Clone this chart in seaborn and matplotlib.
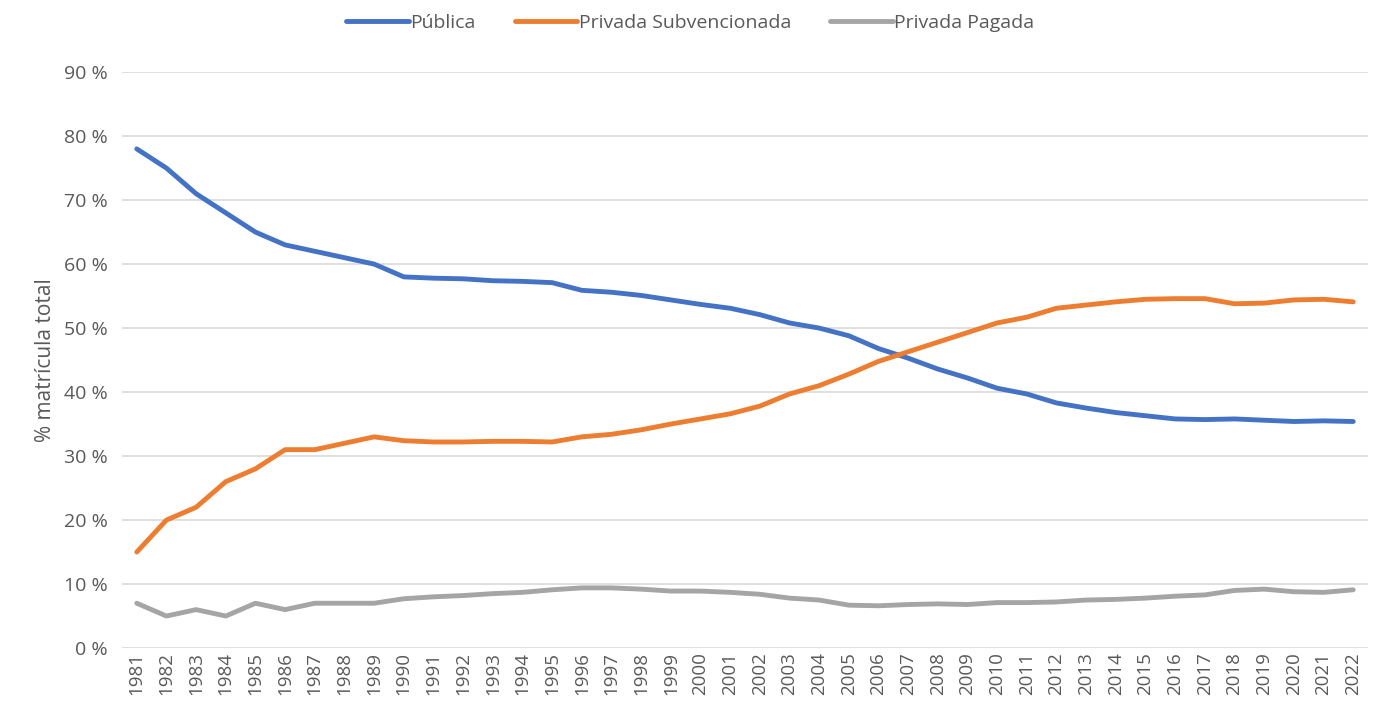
import matplotlib
matplotlib.use("Agg")
import matplotlib.pyplot as plt
import numpy as np
import pandas as pd
import seaborn as sns

years = list(range(1981, 2023))

publica = [78, 75, 71, 68, 65, 63, 62, 61, 60, 58.0, 57.8, 57.7, 57.4, 57.3, 57.1,
           55.9, 55.6, 55.1, 54.4, 53.7, 53.1, 52.1, 50.8, 50.0, 48.8, 46.8, 45.3,
           43.6, 42.2, 40.6, 39.7, 38.3, 37.5, 36.8, 36.3, 35.8, 35.7, 35.8, 35.6,
           35.4, 35.5, 35.4]
subvencionada = [15, 20, 22, 26, 28, 31, 31, 32, 33, 32.4, 32.2, 32.2, 32.3, 32.3, 32.2,
                 33.0, 33.4, 34.1, 35.0, 35.8, 36.6, 37.8, 39.7, 41.0, 42.8, 44.8, 46.3,
                 47.8, 49.3, 50.8, 51.7, 53.1, 53.6, 54.1, 54.5, 54.6, 54.6, 53.8, 53.9,
                 54.4, 54.5, 54.1]
pagada = [7, 5, 6, 5, 7, 6, 7, 7, 7, 7.7, 8.0, 8.2, 8.5, 8.7, 9.1,
          9.4, 9.4, 9.2, 8.9, 8.9, 8.7, 8.4, 7.8, 7.5, 6.7, 6.6, 6.8,
          6.9, 6.8, 7.1, 7.1, 7.2, 7.5, 7.6, 7.8, 8.1, 8.3, 9.0, 9.2,
          8.8, 8.7, 9.1]

series = ['Pública', 'Privada Subvencionada', 'Privada Pagada']
colors = ['#4472C4', '#ED7D31', '#A5A5A5']

df = pd.DataFrame({'Año': years, series[0]: publica, series[1]: subvencionada, series[2]: pagada})
df = df.melt(id_vars='Año', var_name='Dependencia', value_name='Valor')

sns.set_style('white')
plt.rcParams['font.family'] = ['Open Sans', 'DejaVu Sans']

fig = plt.figure(figsize=(13.81, 7.14), dpi=100)
ax = fig.add_axes([0.0883, 0.0924, 0.9023, 0.8066])

sns.lineplot(data=df, x='Año', y='Valor', hue='Dependencia', palette=colors,
             linewidth=3.5, ax=ax, legend=False, solid_capstyle='round')

ax.set_xlim(1980.5, 2022.5)
ax.set_ylim(0, 90)
ax.set_yticks(np.arange(0, 91, 10))
ax.set_yticklabels([f'{v} %' for v in range(0, 91, 10)])
ax.set_xticks(years)
ax.set_xticklabels([str(y) for y in years], rotation=90)
ax.yaxis.grid(True, color='#D9D9D9', linewidth=1.2)
ax.set_axisbelow(True)
for s in ax.spines.values():
    s.set_visible(False)
ax.tick_params(axis='both', length=0, colors='#595959')
ax.tick_params(axis='y', labelsize=14, pad=10)
ax.tick_params(axis='x', labelsize=13.5, pad=3)
ax.set_xlabel('')
ax.set_ylabel('% matrícula total', fontsize=15, color='#595959', labelpad=6)

handles = [plt.Line2D([], [], color=c, linewidth=3.5, solid_capstyle='round') for c in colors]
fig.legend(handles, series, loc='upper center', bbox_to_anchor=(0.5, 1.005), ncol=3,
           frameon=False, fontsize=14, handlelength=3.2, handletextpad=0.1,
           columnspacing=2.0, labelcolor='#595959')

fig.savefig('out.png', dpi=100)
